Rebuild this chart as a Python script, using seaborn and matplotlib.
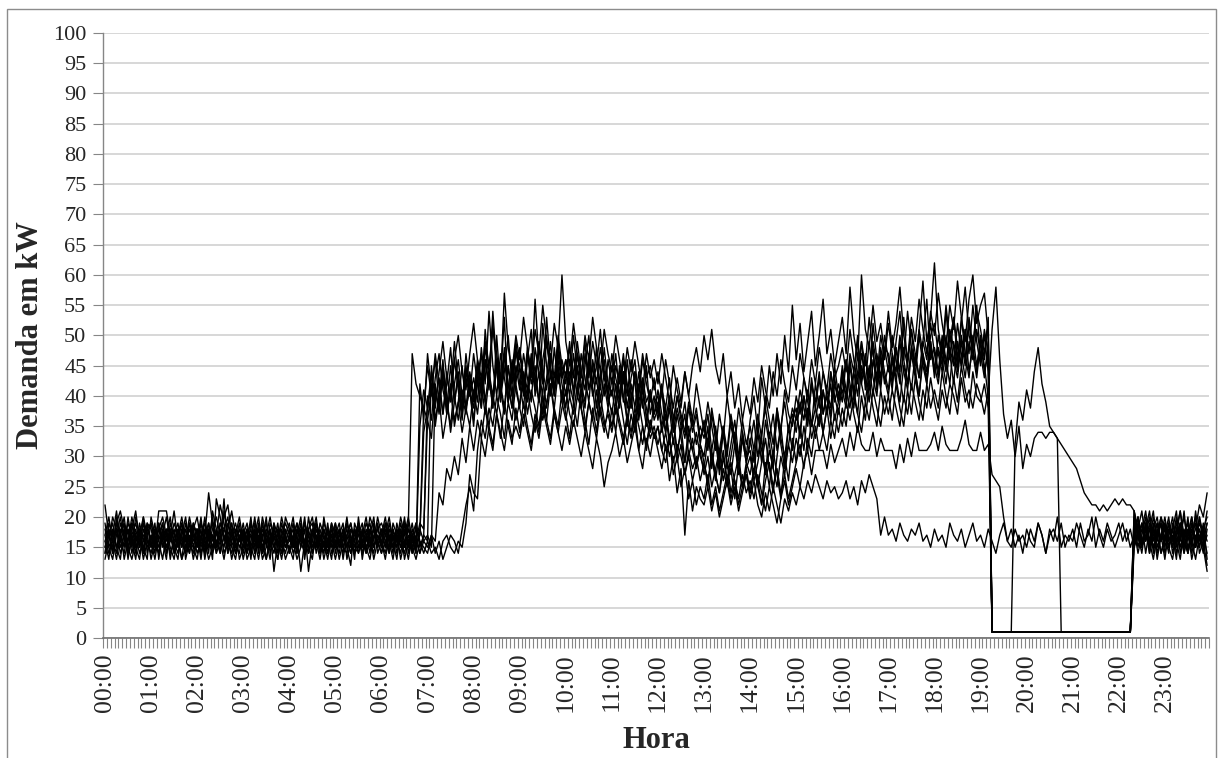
import numpy as np
import pandas as pd
import matplotlib
matplotlib.use("Agg")
import matplotlib.pyplot as plt
import seaborn as sns

# demanda (kW) a cada 5 minutos, uma linha por hora (00:00 ... 23:00)
dia_01 = [
    16, 18, 14, 19, 17, 15, 20, 16, 13, 18, 17, 15,
    17, 14, 19, 16, 18, 15, 13, 17, 20, 16, 14, 18,
    15, 19, 17, 14, 21, 18, 16, 13, 17, 19, 15, 16,
    18, 14, 16, 20, 15, 17, 13, 16, 19, 14, 17, 15,
    16, 19, 14, 17, 15, 18, 20, 16, 13, 17, 15, 19,
    14, 17, 16, 20, 15, 18, 14, 16, 19, 17, 13, 16,
    18, 15, 17, 14, 19, 16, 20, 15, 17, 14, 35, 41,
    38, 44, 36, 40, 46, 37, 42, 35, 39, 45, 38, 41,
    36, 43, 47, 39, 44, 38, 50, 41, 37, 45, 40, 48,
    42, 38, 46, 51, 40, 44, 37, 43, 49, 41, 45, 39,
    44, 40, 47, 42, 38, 45, 50, 41, 36, 43, 46, 39,
    41, 37, 44, 39, 46, 40, 35, 42, 38, 45, 37, 40,
    36, 41, 34, 38, 32, 37, 33, 29, 35, 31, 34, 30,
    28, 33, 30, 26, 31, 35, 29, 27, 32, 28, 34, 30,
    31, 27, 34, 29, 36, 32, 28, 38, 33, 30, 35, 37,
    34, 39, 36, 41, 35, 38, 43, 37, 40, 36, 42, 39,
    41, 38, 45, 40, 47, 42, 39, 44, 48, 41, 46, 43,
    40, 46, 42, 49, 44, 41, 47, 43, 50, 45, 42, 48,
    44, 50, 46, 42, 48, 45, 52, 47, 43, 49, 46, 51,
    47, 43, 49, 1, 1, 1, 1, 1, 1, 1, 1, 1,
    1, 1, 1, 1, 1, 1, 1, 1, 1, 1, 1, 1,
    1, 1, 1, 1, 1, 1, 1, 1, 1, 1, 1, 1,
    1, 1, 1, 1, 17, 20, 15, 18, 21, 16, 19, 14,
    17, 20, 15, 18, 16, 21, 14, 17, 19, 15, 18, 16,
]

dia_02 = [
    14, 17, 19, 15, 13, 18, 16, 20, 17, 14, 16, 19,
    18, 15, 21, 21, 21, 17, 14, 16, 19, 15, 17, 13,
    16, 20, 14, 18, 15, 17, 22, 19, 15, 18, 14, 17,
    13, 16, 18, 15, 19, 14, 17, 20, 16, 13, 18, 15,
    17, 14, 16, 19, 13, 18, 15, 17, 14, 20, 16, 18,
    15, 18, 13, 17, 19, 16, 14, 18, 15, 17, 20, 14,
    16, 19, 14, 17, 15, 18, 13, 16, 19, 15, 17, 38,
    45, 40, 47, 42, 37, 44, 39, 46, 41, 36, 43, 40,
    47, 42, 38, 51, 44, 40, 46, 43, 53, 39, 45, 41,
    38, 44, 41, 47, 43, 39, 52, 45, 40, 48, 42, 46,
    43, 49, 40, 45, 41, 38, 46, 42, 48, 39, 44, 40,
    37, 42, 39, 44, 35, 40, 43, 36, 41, 38, 34, 39,
    40, 35, 38, 33, 36, 31, 34, 37, 30, 33, 28, 32,
    29, 25, 31, 27, 24, 30, 26, 28, 23, 29, 25, 27,
    24, 28, 26, 22, 29, 25, 31, 27, 23, 30, 26, 33,
    29, 35, 31, 38, 33, 36, 40, 34, 38, 42, 36, 39,
    44, 39, 46, 41, 37, 45, 42, 49, 43, 40, 47, 42,
    45, 41, 48, 43, 39, 46, 51, 44, 40, 47, 42, 49,
    43, 48, 45, 54, 47, 42, 49, 45, 51, 44, 48, 55,
    46, 50, 44, 1, 1, 1, 1, 1, 1, 1, 1, 1,
    1, 1, 1, 1, 1, 1, 1, 1, 1, 1, 1, 1,
    1, 1, 1, 1, 1, 1, 1, 1, 1, 1, 1, 1,
    1, 1, 1, 1, 21, 16, 19, 14, 18, 21, 15, 17,
    13, 18, 16, 20, 14, 17, 19, 15, 21, 16, 18, 20,
]

dia_03 = [
    19, 15, 17, 21, 16, 14, 18, 15, 20, 17, 13, 16,
    15, 18, 16, 13, 17, 20, 15, 18, 16, 14, 19, 17,
    14, 16, 19, 17, 13, 23, 20, 16, 18, 21, 17, 15,
    17, 19, 15, 13, 18, 16, 20, 14, 17, 15, 19, 16,
    15, 13, 18, 16, 20, 14, 17, 19, 15, 18, 16, 13,
    18, 16, 14, 19, 17, 13, 20, 15, 18, 16, 14, 19,
    15, 17, 20, 16, 13, 18, 15, 19, 47, 42, 40, 38,
    36, 33, 41, 38, 44, 39, 35, 42, 46, 40, 37, 43,
    39, 45, 41, 48, 43, 38, 46, 40, 44, 50, 42, 47,
    45, 41, 48, 43, 56, 46, 42, 49, 44, 40, 47, 43,
    46, 42, 39, 47, 43, 49, 41, 45, 38, 44, 40, 46,
    42, 47, 40, 44, 38, 43, 46, 39, 42, 36, 41, 37,
    39, 34, 37, 32, 36, 30, 35, 29, 33, 31, 28, 32,
    30, 35, 28, 33, 27, 31, 26, 30, 34, 28, 25, 29,
    27, 31, 25, 29, 33, 28, 24, 30, 35, 29, 32, 36,
    38, 33, 40, 36, 43, 38, 35, 41, 37, 44, 39, 42,
    39, 46, 42, 38, 44, 49, 41, 45, 40, 47, 43, 50,
    46, 42, 48, 44, 53, 45, 41, 47, 43, 49, 56, 46,
    48, 44, 50, 46, 42, 49, 45, 53, 47, 43, 50, 45,
    49, 44, 47, 1, 1, 1, 1, 1, 1, 1, 1, 1,
    1, 1, 1, 1, 1, 1, 1, 1, 1, 1, 1, 1,
    1, 1, 1, 1, 1, 1, 1, 1, 1, 1, 1, 1,
    1, 1, 1, 1, 19, 15, 18, 21, 16, 13, 17, 20,
    16, 19, 14, 17, 21, 15, 18, 13, 16, 19, 17, 14,
]

dia_04 = [
    13, 16, 20, 18, 15, 17, 14, 19, 16, 18, 15, 13,
    20, 17, 15, 18, 14, 16, 19, 17, 13, 15, 18, 16,
    18, 15, 17, 24, 19, 14, 16, 18, 20, 15, 13, 17,
    16, 14, 19, 17, 15, 18, 16, 13, 19, 17, 15, 20,
    18, 16, 13, 15, 19, 17, 14, 16, 18, 15, 19, 14,
    16, 14, 18, 15, 12, 19, 17, 15, 16, 20, 18, 15,
    17, 20, 16, 18, 14, 17, 19, 15, 18, 16, 14, 17,
    40, 36, 43, 47, 41, 38, 45, 39, 43, 37, 44, 41,
    38, 44, 40, 46, 42, 54, 45, 41, 47, 39, 43, 49,
    44, 40, 47, 42, 45, 39, 46, 50, 43, 41, 48, 44,
    40, 46, 43, 49, 44, 41, 47, 42, 45, 51, 43, 40,
    45, 41, 38, 44, 40, 46, 42, 37, 43, 39, 41, 36,
    38, 42, 36, 40, 34, 38, 35, 39, 33, 36, 32, 35,
    33, 37, 31, 35, 30, 34, 28, 32, 36, 30, 33, 29,
    32, 36, 30, 34, 38, 33, 37, 31, 35, 39, 34, 38,
    36, 41, 38, 35, 42, 39, 44, 37, 41, 38, 45, 40,
    43, 40, 47, 44, 50, 42, 46, 43, 49, 45, 41, 48,
    44, 50, 46, 42, 48, 45, 51, 47, 43, 49, 46, 52,
    47, 43, 49, 45, 51, 48, 44, 50, 46, 53, 48, 44,
    50, 46, 52, 1, 1, 1, 1, 1, 1, 1, 1, 1,
    1, 1, 1, 1, 1, 1, 1, 1, 1, 1, 1, 1,
    1, 1, 1, 1, 1, 1, 1, 1, 1, 1, 1, 1,
    1, 1, 1, 1, 20, 17, 14, 19, 16, 18, 13, 17,
    19, 15, 18, 14, 17, 20, 16, 19, 15, 17, 14, 18,
]

dia_05 = [
    17, 14, 16, 19, 21, 18, 15, 17, 14, 19, 16, 18,
    16, 19, 13, 17, 15, 18, 16, 14, 17, 20, 15, 19,
    17, 13, 18, 16, 20, 15, 19, 17, 14, 16, 18, 13,
    15, 18, 17, 14, 16, 19, 15, 18, 11, 16, 20, 17,
    19, 15, 17, 20, 14, 16, 18, 15, 17, 13, 16, 19,
    17, 19, 15, 14, 18, 16, 19, 13, 17, 15, 18, 16,
    14, 16, 18, 15, 17, 13, 16, 18, 15, 17, 14, 16,
    15, 17, 14, 16, 13, 15, 17, 16, 14, 18, 22, 25,
    21, 31, 36, 33, 38, 35, 40, 37, 33, 39, 36, 42,
    38, 35, 41, 37, 34, 40, 36, 39, 42, 37, 34, 38,
    41, 37, 35, 40, 38, 34, 39, 36, 33, 38, 35, 37,
    34, 38, 35, 32, 36, 33, 37, 31, 35, 32, 36, 33,
    35, 31, 34, 30, 33, 29, 32, 27, 30, 26, 29, 31,
    27, 30, 25, 28, 31, 26, 29, 24, 27, 30, 25, 28,
    30, 26, 29, 33, 27, 31, 28, 25, 30, 27, 32, 29,
    33, 30, 35, 31, 36, 33, 37, 34, 31, 36, 33, 38,
    35, 39, 36, 40, 37, 34, 39, 36, 41, 38, 35, 40,
    37, 41, 38, 35, 40, 37, 42, 39, 36, 41, 38, 43,
    39, 36, 41, 38, 42, 40, 37, 43, 39, 41, 38, 42,
    40, 37, 41, 1, 1, 1, 1, 1, 1, 32, 39, 36,
    41, 38, 44, 48, 42, 39, 35, 34, 33, 1, 1, 1,
    1, 1, 1, 1, 1, 1, 1, 1, 1, 1, 1, 1,
    1, 1, 1, 1, 16, 19, 15, 17, 20, 14, 18, 16,
    18, 15, 17, 13, 19, 16, 14, 18, 15, 20, 16, 12,
]

dia_06 = [
    15, 18, 16, 13, 17, 19, 14, 16, 18, 15, 20, 17,
    19, 16, 14, 18, 15, 17, 21, 16, 13, 18, 16, 15,
    13, 17, 15, 19, 16, 18, 14, 21, 17, 13, 16, 18,
    16, 18, 14, 17, 20, 15, 17, 16, 14, 18, 15, 17,
    14, 17, 19, 15, 18, 11, 16, 19, 17, 14, 18, 15,
    19, 15, 17, 16, 14, 18, 15, 17, 20, 16, 15, 17,
    16, 13, 17, 15, 18, 16, 14, 17, 15, 13, 16, 14,
    16, 14, 15, 13, 16, 17, 15, 14, 16, 15, 19, 27,
    24, 23, 33, 30, 35, 32, 37, 34, 31, 36, 33, 35,
    33, 37, 34, 31, 36, 33, 38, 35, 32, 37, 34, 31,
    35, 32, 36, 33, 30, 34, 31, 28, 33, 30, 25, 29,
    31, 34, 30, 33, 29, 32, 35, 31, 28, 33, 30, 34,
    31, 28, 32, 26, 30, 24, 28, 17, 26, 21, 25, 23,
    22, 25, 21, 24, 20, 23, 26, 22, 25, 21, 24, 27,
    23, 26, 22, 20, 24, 21, 25, 22, 19, 23, 21, 24,
    22, 25, 23, 26, 24, 27, 25, 23, 26, 24, 25, 23,
    24, 26, 23, 25, 22, 26, 24, 27, 25, 23, 17, 20,
    17, 18, 16, 19, 17, 16, 18, 17, 19, 16, 17, 15,
    18, 16, 17, 15, 19, 17, 16, 18, 15, 17, 19, 16,
    17, 15, 18, 16, 14, 17, 19, 16, 15, 18, 16, 17,
    15, 18, 16, 19, 17, 14, 17, 18, 16, 19, 15, 17,
    16, 19, 17, 15, 18, 16, 20, 17, 15, 18, 16, 17,
    19, 16, 18, 15, 17, 20, 16, 18, 14, 17, 19, 16,
    17, 14, 19, 16, 18, 15, 17, 20, 16, 18, 15, 17,
]

dia_07 = [
    18, 15, 13, 17, 20, 16, 18, 14, 17, 15, 19, 16,
    14, 17, 19, 15, 18, 13, 17, 19, 15, 17, 14, 18,
    20, 16, 14, 18, 17, 15, 18, 14, 16, 19, 15, 17,
    15, 17, 13, 19, 16, 14, 18, 17, 15, 13, 17, 19,
    17, 20, 15, 18, 16, 14, 17, 20, 15, 16, 14, 17,
    15, 17, 19, 13, 16, 18, 16, 14, 17, 19, 15, 18,
    19, 17, 15, 18, 16, 14, 18, 16, 14, 19, 15, 17,
    16, 45, 39, 43, 37, 42, 48, 40, 36, 41, 38, 44,
    40, 46, 42, 37, 43, 39, 45, 41, 48, 42, 38, 44,
    47, 42, 39, 45, 41, 48, 43, 38, 44, 40, 46, 42,
    38, 44, 41, 47, 42, 39, 45, 40, 43, 37, 42, 38,
    43, 39, 45, 40, 36, 42, 38, 44, 39, 35, 40, 37,
    41, 37, 34, 39, 35, 40, 36, 33, 38, 34, 37, 32,
    36, 32, 38, 34, 29, 35, 31, 37, 33, 30, 36, 32,
    35, 31, 37, 33, 40, 36, 32, 38, 34, 41, 37, 35,
    40, 37, 43, 39, 35, 42, 38, 44, 40, 37, 43, 39,
    45, 41, 38, 44, 40, 47, 43, 39, 46, 42, 48, 44,
    41, 47, 43, 39, 45, 42, 48, 44, 40, 46, 43, 49,
    45, 42, 48, 44, 50, 46, 43, 49, 45, 52, 47, 43,
    49, 45, 40, 51, 58, 46, 37, 33, 36, 30, 35, 28,
    32, 30, 33, 34, 34, 33, 34, 34, 33, 32, 31, 30,
    29, 28, 26, 24, 23, 22, 22, 21, 22, 21, 22, 23,
    22, 23, 22, 22, 21, 18, 15, 19, 16, 20, 17, 14,
    16, 19, 15, 18, 21, 17, 19, 16, 18, 22, 20, 24,
]

dia_08 = [
    16, 13, 18, 15, 17, 20, 15, 13, 16, 18, 14, 17,
    13, 16, 18, 20, 17, 14, 16, 18, 15, 19, 16, 14,
    17, 19, 16, 13, 15, 18, 16, 23, 14, 17, 19, 16,
    19, 15, 17, 16, 13, 17, 19, 15, 18, 16, 14, 18,
    16, 18, 15, 17, 19, 15, 13, 18, 16, 19, 17, 16,
    13, 16, 18, 15, 17, 14, 18, 16, 14, 18, 16, 20,
    17, 15, 19, 16, 18, 15, 17, 20, 16, 18, 17, 34,
    38, 42, 35, 40, 33, 37, 41, 36, 39, 34, 38, 35,
    41, 37, 43, 39, 35, 40, 37, 42, 38, 45, 40, 36,
    39, 43, 37, 41, 38, 35, 40, 36, 42, 38, 44, 39,
    36, 40, 37, 42, 38, 35, 39, 36, 41, 37, 34, 38,
    35, 39, 36, 33, 37, 34, 38, 35, 32, 36, 33, 35,
    32, 35, 31, 33, 29, 32, 30, 27, 31, 28, 30, 26,
    29, 26, 30, 27, 24, 28, 25, 29, 26, 23, 27, 24,
    26, 23, 27, 24, 21, 25, 22, 19, 23, 26, 22, 25,
    28, 25, 29, 31, 27, 31, 31, 31, 28, 32, 29, 31,
    33, 30, 34, 31, 35, 32, 31, 31, 34, 30, 33, 31,
    31, 31, 28, 32, 29, 33, 30, 34, 31, 31, 31, 32,
    34, 31, 35, 32, 31, 31, 31, 33, 36, 32, 31, 31,
    34, 31, 32, 27, 26, 25, 20, 16, 18, 15, 17, 14,
    18, 16, 15, 19, 17, 14, 18, 16, 20, 15, 17, 16,
    18, 15, 19, 16, 17, 20, 15, 18, 16, 19, 17, 15,
    17, 19, 16, 18, 15, 17, 19, 16, 18, 15, 17, 19,
    15, 18, 16, 19, 17, 14, 18, 16, 13, 17, 15, 11,
]

dia_09 = [
    14, 19, 17, 15, 18, 13, 16, 19, 15, 17, 20, 14,
    17, 15, 18, 16, 13, 19, 17, 15, 18, 16, 20, 17,
    15, 18, 13, 17, 19, 16, 14, 17, 15, 18, 16, 19,
    14, 17, 19, 16, 18, 15, 13, 17, 16, 19, 14, 16,
    18, 15, 17, 11, 16, 18, 19, 14, 17, 15, 18, 16,
    17, 13, 16, 18, 15, 17, 19, 14, 16, 18, 15, 17,
    15, 18, 16, 13, 17, 15, 19, 14, 17, 15, 18, 16,
    17, 15, 42, 37, 45, 40, 34, 39, 44, 38, 47, 41,
    35, 43, 38, 46, 41, 52, 44, 39, 47, 42, 38, 45,
    41, 47, 43, 39, 48, 44, 40, 53, 45, 41, 49, 43,
    46, 42, 50, 44, 40, 47, 43, 49, 45, 41, 48, 42,
    40, 45, 42, 47, 41, 38, 44, 40, 46, 42, 39, 43,
    37, 41, 38, 43, 36, 40, 37, 34, 39, 35, 38, 33,
    35, 31, 37, 33, 28, 34, 30, 36, 32, 27, 33, 29,
    33, 29, 35, 31, 27, 34, 30, 37, 32, 28, 35, 31,
    37, 34, 40, 36, 42, 38, 35, 41, 37, 44, 40, 37,
    42, 46, 40, 44, 49, 43, 47, 41, 52, 46, 42, 48,
    47, 43, 49, 54, 46, 42, 48, 45, 51, 47, 44, 50,
    52, 47, 44, 50, 46, 53, 48, 45, 51, 47, 55, 49,
    45, 51, 47, 1, 1, 1, 1, 1, 1, 1, 1, 1,
    1, 1, 1, 1, 1, 1, 1, 1, 1, 1, 1, 1,
    1, 1, 1, 1, 1, 1, 1, 1, 1, 1, 1, 1,
    1, 1, 1, 1, 18, 14, 17, 20, 15, 18, 16, 19,
    14, 17, 20, 16, 13, 18, 15, 17, 20, 14, 16, 19,
]

dia_10 = [
    22, 17, 15, 18, 14, 16, 19, 17, 15, 13, 18, 16,
    16, 13, 17, 19, 16, 18, 14, 17, 19, 13, 16, 18,
    18, 14, 16, 15, 18, 20, 17, 15, 19, 16, 14, 18,
    17, 13, 15, 18, 14, 19, 16, 18, 15, 17, 16, 13,
    15, 17, 14, 18, 16, 15, 18, 17, 14, 16, 13, 17,
    19, 16, 15, 17, 14, 16, 18, 17, 15, 13, 17, 18,
    16, 14, 18, 17, 15, 19, 16, 13, 17, 19, 16, 15,
    14, 17, 16, 24, 22, 28, 26, 30, 27, 33, 29, 35,
    31, 36, 33, 38, 34, 31, 37, 33, 39, 35, 32, 38,
    34, 39, 35, 32, 37, 34, 40, 36, 33, 38, 35, 41,
    37, 33, 39, 35, 41, 36, 32, 38, 34, 40, 36, 33,
    38, 34, 40, 36, 32, 37, 34, 39, 35, 31, 36, 33,
    35, 31, 29, 33, 27, 30, 25, 28, 23, 26, 22, 25,
    23, 27, 22, 25, 21, 24, 27, 23, 26, 22, 25, 28,
    24, 28, 25, 22, 26, 29, 25, 28, 24, 27, 23, 26,
    29, 32, 28, 33, 30, 35, 31, 34, 38, 33, 37, 34,
    38, 35, 41, 37, 34, 40, 36, 42, 38, 35, 41, 37,
    40, 36, 42, 38, 35, 41, 37, 43, 39, 36, 42, 38,
    41, 38, 44, 40, 37, 43, 39, 45, 41, 38, 44, 40,
    39, 42, 38, 1, 1, 1, 1, 1, 1, 1, 1, 1,
    1, 1, 1, 1, 1, 1, 1, 1, 1, 1, 1, 1,
    1, 1, 1, 1, 1, 1, 1, 1, 1, 1, 1, 1,
    1, 1, 1, 1, 15, 18, 21, 16, 19, 15, 17, 20,
    18, 15, 13, 17, 19, 16, 20, 14, 17, 15, 19, 13,
]

dia_11 = [
    17, 20, 16, 14, 19, 17, 15, 18, 21, 16, 14, 19,
    15, 18, 16, 19, 14, 17, 15, 13, 18, 16, 19, 15,
    18, 16, 20, 15, 17, 14, 19, 18, 16, 14, 17, 20,
    16, 18, 14, 17, 15, 20, 17, 15, 18, 16, 13, 17,
    14, 16, 19, 17, 15, 17, 14, 19, 16, 18, 15, 17,
    16, 18, 15, 17, 19, 15, 17, 19, 14, 16, 18, 15,
    18, 16, 14, 19, 17, 16, 15, 18, 16, 14, 42, 36,
    47, 41, 38, 44, 49, 43, 40, 46, 50, 44, 41, 47,
    52, 46, 43, 49, 45, 51, 47, 42, 57, 48, 44, 50,
    46, 53, 48, 44, 51, 47, 55, 49, 45, 52, 48, 60,
    49, 45, 52, 47, 43, 50, 46, 53, 48, 44, 51, 47,
    44, 50, 46, 42, 48, 44, 49, 45, 41, 47, 43, 46,
    42, 47, 43, 39, 45, 41, 38, 44, 40, 36, 42, 38,
    34, 39, 35, 31, 37, 33, 40, 35, 32, 38, 34, 30,
    36, 40, 34, 43, 38, 45, 40, 47, 42, 50, 44, 55,
    46, 52, 44, 49, 54, 45, 50, 56, 47, 51, 45, 49,
    53, 47, 58, 50, 46, 60, 51, 48, 55, 49, 52, 47,
    54, 48, 52, 58, 50, 46, 53, 49, 56, 51, 47, 54,
    50, 57, 52, 48, 55, 51, 59, 53, 49, 56, 60, 52,
    55, 57, 50, 1, 1, 1, 1, 1, 1, 1, 1, 1,
    1, 1, 1, 1, 1, 1, 1, 1, 1, 1, 1, 1,
    1, 1, 1, 1, 1, 1, 1, 1, 1, 1, 1, 1,
    1, 1, 1, 1, 21, 17, 15, 19, 14, 18, 20, 16,
    19, 16, 18, 21, 15, 17, 14, 19, 16, 20, 17, 21,
]

dia_12 = [
    15, 17, 14, 20, 16, 18, 13, 17, 19, 16, 15, 18,
    19, 16, 14, 17, 20, 16, 18, 15, 17, 14, 16, 19,
    16, 14, 17, 19, 14, 16, 17, 20, 22, 17, 15, 14,
    18, 16, 20, 14, 17, 13, 15, 19, 17, 18, 16, 14,
    17, 15, 18, 16, 14, 20, 16, 15, 19, 17, 14, 18,
    18, 15, 17, 19, 16, 14, 15, 18, 17, 14, 19, 16,
    14, 19, 17, 15, 16, 20, 17, 19, 14, 16, 19, 18,
    36, 41, 46, 39, 43, 37, 41, 49, 42, 38, 45, 40,
    43, 39, 48, 42, 54, 45, 40, 47, 43, 39, 46, 42,
    48, 43, 40, 46, 42, 49, 44, 41, 47, 43, 50, 45,
    42, 48, 44, 40, 47, 43, 39, 46, 42, 48, 44, 41,
    47, 43, 40, 46, 42, 38, 44, 41, 47, 43, 45, 41,
    44, 40, 46, 42, 38, 43, 39, 44, 40, 45, 48, 44,
    50, 46, 51, 45, 42, 47, 40, 44, 38, 42, 36, 40,
    37, 43, 39, 45, 41, 38, 44, 40, 46, 42, 39, 45,
    41, 47, 43, 40, 46, 42, 48, 44, 41, 47, 43, 45,
    48, 44, 51, 46, 42, 49, 45, 53, 47, 43, 50, 46,
    52, 47, 44, 50, 46, 54, 48, 45, 51, 59, 49, 53,
    62, 51, 47, 55, 49, 53, 46, 52, 58, 50, 48, 54,
    51, 47, 53, 1, 1, 1, 1, 1, 1, 1, 1, 1,
    1, 1, 1, 1, 1, 1, 1, 1, 1, 1, 1, 1,
    1, 1, 1, 1, 1, 1, 1, 1, 1, 1, 1, 1,
    1, 1, 1, 1, 17, 20, 16, 18, 15, 19, 14, 17,
    20, 16, 18, 15, 19, 14, 17, 20, 15, 18, 16, 19,
]

dias = {
    "01": dia_01, "02": dia_02, "03": dia_03, "04": dia_04,
    "05": dia_05, "06": dia_06, "07": dia_07, "08": dia_08,
    "09": dia_09, "10": dia_10, "11": dia_11, "12": dia_12,
}

horas = [f"{h:02d}:00" for h in range(24)]

for nome, serie in dias.items():
    assert len(serie) == 288, f"dia {nome}: {len(serie)} pontos"

frames = []
for nome, serie in dias.items():
    frames.append(pd.DataFrame({
        "passo": np.arange(len(serie)),
        "demanda": serie,
        "dia": nome,
    }))
df = pd.concat(frames, ignore_index=True)

sns.set_style("white")
plt.rcParams["font.family"] = ["Liberation Serif", "DejaVu Serif"]

fig = plt.figure(figsize=(12.21, 7.58), dpi=100)
ax = fig.add_axes([0.0844, 0.1583, 0.9058, 0.7982])

sns.lineplot(
    data=df,
    x="passo",
    y="demanda",
    units="dia",
    estimator=None,
    color="black",
    linewidth=1.0,
    ax=ax,
    legend=False,
)

ax.set_xlim(-0.5, 287.5)
ax.set_ylim(0, 100)

ax.set_yticks(np.arange(0, 101, 5))
ax.yaxis.grid(True, color="#d4d4d4", linewidth=1.3)
ax.xaxis.grid(False)
ax.set_axisbelow(True)

ax.set_xticks(np.arange(0, 288, 12))
ax.set_xticklabels(horas, rotation=90)
ax.set_xticks(np.arange(-0.5, 288, 1), minor=True)

ax.tick_params(axis="y", which="major", direction="out", length=7,
               color="#868686", labelsize=16, pad=5, left=True)
ax.tick_params(axis="x", which="major", length=0, labelsize=18.5, pad=11)
ax.tick_params(axis="x", which="minor", direction="out", length=7,
               color="#868686", width=0.8, bottom=True)

for lado in ["top", "right"]:
    ax.spines[lado].set_visible(False)
ax.spines["left"].set_color("#868686")
ax.spines["bottom"].set_color("#6e6e6e")
ax.spines["left"].set_linewidth(1.0)
ax.spines["bottom"].set_linewidth(1.2)

ax.set_xlabel("Hora", fontsize=22, fontweight="bold", labelpad=10)
ax.set_ylabel("Demanda em kW", fontsize=22, fontweight="bold", labelpad=6)

borda = plt.Rectangle((0.0057, -0.01), 0.9902, 0.998, transform=fig.transFigure,
                      fill=False, edgecolor="#8c8c8c", linewidth=1.0)
fig.patches.append(borda)

fig.savefig("out.png", dpi=100)
